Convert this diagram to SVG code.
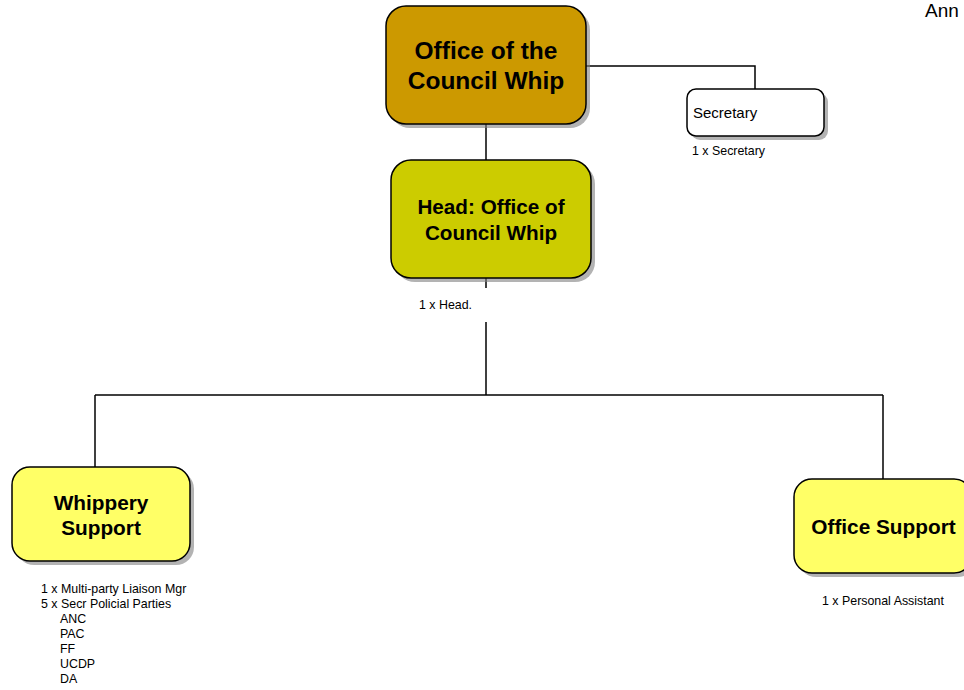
<svg xmlns="http://www.w3.org/2000/svg" width="964" height="690" viewBox="0 0 964 690">
<style>
.box{stroke:#000;stroke-width:1.5}
.sh{fill:#808080;opacity:0.6}
.t{font-family:"Liberation Sans",Arial,sans-serif;font-weight:bold;text-anchor:middle;fill:#000}
.s{font-family:"Liberation Sans",Arial,sans-serif;font-size:12.4px;fill:#000}
.ln{stroke:#000;stroke-width:1.5;fill:none}
</style>
<rect width="964" height="690" fill="#fff"/>
<text x="925" y="17" font-family="Liberation Sans,Arial,sans-serif" font-size="19">Ann</text>
<g id="connectors">
<path class="ln" d="M586 66 H755 V89"/>
<path class="ln" d="M486 124 V160"/>
<path class="ln" d="M486 278 V288"/>
<path class="ln" d="M486 322 V395"/>
<path class="ln" d="M95 395 H883"/>
<path class="ln" d="M95 395 V467"/>
<path class="ln" d="M883 395 V479"/>
</g>
<g id="office-whip">
<rect class="sh" x="390" y="10" width="200" height="118" rx="20"/>
<rect class="box" x="386" y="6" width="200" height="118" rx="20" fill="#CC9900"/>
<text class="t" x="486" y="59" font-size="24.5">Office of the</text>
<text class="t" x="486" y="89" font-size="24.5">Council Whip</text>
</g>
<g id="secretary">
<rect class="sh" x="691" y="93" width="137" height="47" rx="9"/>
<rect class="box" x="687" y="89" width="137" height="47" rx="9" fill="#fff"/>
<text x="693" y="118" font-family="Liberation Sans,Arial,sans-serif" font-size="15">Secretary</text>
<text class="s" x="692" y="155">1 x Secretary</text>
</g>
<g id="head">
<rect class="sh" x="395" y="164" width="200" height="118" rx="20"/>
<rect class="box" x="391" y="160" width="200" height="118" rx="20" fill="#CCCC00"/>
<text class="t" x="491" y="214" font-size="20.7">Head: Office of</text>
<text class="t" x="491" y="240" font-size="20.7">Council Whip</text>
<text class="s" x="419" y="309">1 x Head.</text>
</g>
<g id="whippery">
<rect class="sh" x="16" y="471" width="178" height="94" rx="18"/>
<rect class="box" x="12" y="467" width="178" height="94" rx="18" fill="#FFFF66"/>
<text class="t" x="101" y="510" font-size="20.8">Whippery</text>
<text class="t" x="101" y="535" font-size="20.8">Support</text>
<text class="s" x="41" y="593">1 x Multi-party Liaison Mgr</text>
<text class="s" x="41" y="608">5 x Secr Policial Parties</text>
<text class="s" x="60" y="623">ANC</text>
<text class="s" x="60" y="638">PAC</text>
<text class="s" x="60" y="653">FF</text>
<text class="s" x="60" y="668">UCDP</text>
<text class="s" x="60" y="683">DA</text>
</g>
<g id="office-support">
<rect class="sh" x="798" y="483" width="178" height="94" rx="18"/>
<rect class="box" x="794" y="479" width="178" height="94" rx="18" fill="#FFFF66"/>
<text class="t" x="883.5" y="534" font-size="20.8">Office Support</text>
<text class="s" x="822" y="605">1 x Personal Assistant</text>
</g>
</svg>
